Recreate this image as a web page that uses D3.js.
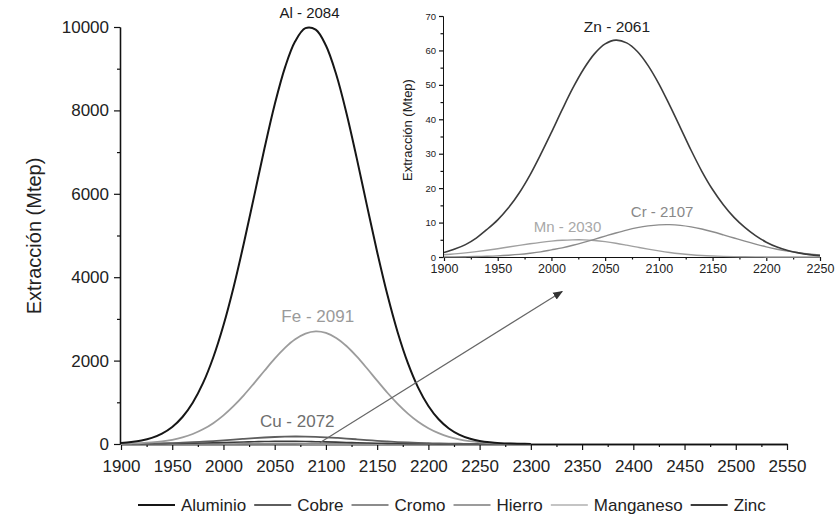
<!DOCTYPE html>
<html lang="es">
  <head>
    <meta charset="UTF-8" />
    <title>Extracción de metales</title>
    <script src="https://cdn.jsdelivr.net/npm/d3@7"></script>
    <style>
      body {
        margin: 0;
        background: #fff;
      }
      svg {
        font-family: "Liberation Sans", Arial, sans-serif;
      }
    </style>
  </head>
  <body>
    <svg width="837" height="516"></svg>
    <script>
      // values, every 10 years
      const years = [
        1900, 1910, 1920, 1930, 1940, 1950, 1960, 1970, 1980, 1990, 2000,
        2010, 2020, 2030, 2040, 2050, 2060, 2070, 2080, 2090, 2100, 2110,
        2120, 2130, 2140, 2150, 2160, 2170, 2180, 2190, 2200, 2210, 2220,
        2230, 2240, 2250, 2260, 2270, 2280, 2290, 2300,
      ];
      const aluminio = [
        24, 46, 83, 147, 250, 409, 648, 990, 1458, 2075, 2848, 3773, 4824,
        5951, 7085, 8140, 9026, 9657, 9972, 9936, 9555, 8866, 7940, 6862,
        5723, 4605, 3577, 2681, 1939, 1353, 912, 593, 372, 225, 131, 74, 40,
        21, 11, 5, 3,
      ];
      const hierro = [
        6, 12, 21, 37, 62, 101, 158, 240, 352, 500, 687, 913, 1173, 1460,
        1756, 2045, 2304, 2510, 2647, 2700, 2664, 2544, 2350, 2100, 1816,
        1519, 1229, 963, 730, 534, 379, 260, 172, 111, 69, 41, 24, 13, 7, 4,
        2,
      ];
      const cobre = [
        3, 5, 7, 11, 16, 23, 32, 42, 56, 71, 88, 106, 124, 141, 156, 168, 176,
        180, 178, 172, 161, 147, 131, 113, 95, 77, 61, 47, 36, 26, 18, 13, 9,
        6, 4, 2, 1, 1, 0, 0, 0,
      ];
      const zinc = [
        1.3, 2.3, 3.6, 5.5, 8.0, 10.8, 14.3, 18.6, 23.8, 29.8, 36.2, 42.8,
        49.1, 54.6, 59.0, 61.9, 63.0, 62.2, 59.7, 55.6, 50.3, 44.1, 37.6, 31.0,
        24.9, 19.6, 15.2, 11.5, 8.6, 6.2, 4.3, 2.9, 1.9, 1.2, 0.7, 0.4, 0.2,
        0.1, 0.1, 0, 0,
      ];
      const cromo = [
        0.03, 0.05, 0.09, 0.14, 0.22, 0.34, 0.52, 0.75, 1.08, 1.49, 2.07, 2.66,
        3.4, 4.24, 5.14, 6.07, 6.98, 7.82, 8.52, 9.04, 9.34, 9.39, 9.19, 8.75,
        8.12, 7.33, 6.44, 5.51, 4.59, 3.73, 2.94, 2.26, 1.69, 1.23, 0.87, 0.6,
        0.4, 0.26, 0.17, 0.1, 0.06,
      ];
      const manganeso = [
        0.66, 0.9, 1.19, 1.55, 1.95, 2.4, 2.89, 3.37, 3.84, 4.26, 4.61, 4.86,
        4.98, 4.98, 4.8, 4.45, 3.99, 3.44, 2.86, 2.29, 1.77, 1.31, 0.94, 0.65,
        0.43, 0.28, 0.17, 0.1, 0.06, 0.03, 0.02, 0.01, 0, 0, 0, 0, 0, 0, 0, 0,
        0,
      ];

      const seriesNames = ["Aluminio", "Cobre", "Cromo", "Hierro", "Manganeso", "Zinc"];
      const seriesValues = [aluminio, cobre, cromo, hierro, manganeso, zinc];
      const seriesColors = ["#161616", "#5e5e5e", "#8c8c8c", "#9c9c9c", "#c4c4c4", "#3c3c3c"];
      const seriesWidths = [2, 1.8, 1.5, 1.8, 1.5, 1.6];

      const mainXTicks = [1900, 1950, 2000, 2050, 2100, 2150, 2200, 2250, 2300, 2350, 2400, 2450, 2500, 2550];
      const mainYTicks = [0, 2000, 4000, 6000, 8000, 10000];
      const insetXTicks = [1900, 1950, 2000, 2050, 2100, 2150, 2200, 2250];
      const insetYTicks = [0, 10, 20, 30, 40, 50, 60, 70];

      // peak annotations: [text, year, value, color, font size]
      const mainLabels = [
        ["Al - 2084", 2084, 10000, "#1a1a1a", 15],
        ["Fe - 2091", 2092, 2700, "#9a9a9a", 17],
        ["Cu - 2072", 2072, 180, "#6e6e6e", 17],
      ];
      const insetLabels = [
        ["Zn - 2061", 2061, 63, "#222", 15.5],
        ["Mn - 2030", 2015, 5, "#a8a8a8", 15],
        ["Cr - 2107", 2103, 9.4, "#888", 15],
      ];

      const svg = d3.select("svg");
      const rows = years.map((y, i) => ({ year: y, v: seriesValues.map((s) => s[i]) }));

      // ---- main chart
      const x = d3.scaleLinear().domain([1900, 2550]).range([121, 787]);
      const y = d3.scaleLinear().domain([0, 10000]).range([444, 27]);

      const styleAxis = (g, w) => {
        g.select(".domain").attr("stroke", "#111").attr("stroke-width", w);
        g.selectAll(".tick line").attr("stroke", "#111").attr("stroke-width", 1.2);
        g.selectAll(".tick text").attr("fill", "#222");
      };

      svg.append("g")
        .attr("transform", "translate(0,444)")
        .call(d3.axisBottom(x).tickValues(d3.range(1925, 2550, 50)).tickSize(3).tickFormat("").tickSizeOuter(0))
        .call(styleAxis, 1.6);
      svg.append("g")
        .attr("transform", "translate(0,444)")
        .call(d3.axisBottom(x).tickValues(mainXTicks).tickSize(6).tickPadding(10).tickFormat(d3.format("d")).tickSizeOuter(0))
        .call(styleAxis, 1.6)
        .attr("font-size", 17).attr("font-family", null);

      svg.append("g")
        .attr("transform", "translate(120,0)")
        .call(d3.axisLeft(y).tickValues(d3.range(1000, 10000, 2000)).tickSize(3).tickFormat("").tickSizeOuter(0))
        .call(styleAxis, 1.3);
      svg.append("g")
        .attr("transform", "translate(120,0)")
        .call(d3.axisLeft(y).tickValues(mainYTicks).tickSize(6).tickPadding(5).tickFormat(d3.format("d")).tickSizeOuter(0))
        .call(styleAxis, 1.3)
        .attr("font-size", 17).attr("font-family", null);

      svg.append("text")
        .attr("transform", "translate(41,236) rotate(-90)")
        .attr("text-anchor", "middle")
        .attr("font-size", 20)
        .attr("fill", "#222")
        .text("Extracción (Mtep)");

      const mainOrder = [4, 2, 5, 1, 3, 0];
      mainOrder.forEach((k) => {
        const line = d3.line()
          .x((d) => x(d.year))
          .y((d) => y(d.v[k]))
          .curve(d3.curveCatmullRom.alpha(0.5));
        svg.append("path")
          .attr("d", line(rows))
          .attr("fill", "none")
          .attr("stroke", seriesColors[k])
          .attr("stroke-width", seriesWidths[k]);
      });

      mainLabels.forEach(([t, yr, val, col, fs]) => {
        svg.append("text")
          .attr("x", x(yr))
          .attr("y", y(val) - 9)
          .attr("text-anchor", "middle")
          .attr("font-size", fs)
          .attr("fill", col)
          .text(t);
      });

      // ---- inset
      const xi = d3.scaleLinear().domain([1900, 2250]).range([444, 820]);
      const yi = d3.scaleLinear().domain([0, 70]).range([257, 16]);
      const insetRows = rows.filter((d) => d.year <= 2250);

      svg.append("g")
        .attr("transform", "translate(0,257)")
        .call(d3.axisBottom(xi).tickValues(d3.range(1925, 2250, 50)).tickSize(2.5).tickFormat("").tickSizeOuter(0))
        .call(styleAxis, 1);
      svg.append("g")
        .attr("transform", "translate(0,257)")
        .call(d3.axisBottom(xi).tickValues(insetXTicks).tickSize(4).tickPadding(3).tickFormat(d3.format("d")).tickSizeOuter(0))
        .call(styleAxis, 1)
        .attr("font-size", 12.5).attr("font-family", null);
      svg.append("g")
        .attr("transform", "translate(443,0)")
        .call(d3.axisLeft(yi).tickValues(d3.range(5, 70, 10)).tickSize(2.5).tickFormat("").tickSizeOuter(0))
        .call(styleAxis, 1);
      svg.append("g")
        .attr("transform", "translate(443,0)")
        .call(d3.axisLeft(yi).tickValues(insetYTicks).tickSize(4).tickPadding(3).tickSizeOuter(0))
        .call(styleAxis, 1)
        .attr("font-size", 9.5).attr("font-family", null);

      svg.append("text")
        .attr("transform", "translate(412,130) rotate(-90)")
        .attr("text-anchor", "middle")
        .attr("font-size", 13)
        .attr("fill", "#222")
        .text("Extracción (Mtep)");

      [4, 2, 5].forEach((k) => {
        const line = d3.line()
          .x((d) => xi(d.year))
          .y((d) => yi(d.v[k]))
          .curve(d3.curveCatmullRom.alpha(0.5));
        svg.append("path")
          .attr("d", line(insetRows))
          .attr("fill", "none")
          .attr("stroke", k === 4 ? "#a0a0a0" : seriesColors[k])
          .attr("stroke-width", k === 5 ? 1.6 : 1.4);
      });

      insetLabels.forEach(([t, yr, val, col, fs]) => {
        svg.append("text")
          .attr("x", xi(yr))
          .attr("y", yi(val) - 8)
          .attr("text-anchor", "middle")
          .attr("font-size", fs)
          .attr("fill", col)
          .text(t);
      });

      // ---- arrow from the flat curves up to the inset
      svg.append("defs").append("marker")
        .attr("id", "head")
        .attr("viewBox", "0 0 10 10")
        .attr("refX", 9).attr("refY", 5)
        .attr("markerWidth", 9).attr("markerHeight", 9)
        .attr("orient", "auto")
        .append("path")
        .attr("d", "M0,1L10,5L0,9z")
        .attr("fill", "#333");
      svg.append("line")
        .attr("x1", x(2094)).attr("y1", y(30))
        .attr("x2", xi(2010)).attr("y2", yi(-10))
        .attr("stroke", "#666")
        .attr("stroke-width", 1.1)
        .attr("marker-end", "url(#head)");

      // ---- legend
      let lx = 138;
      const ly = 505;
      const legend = svg.append("g").attr("font-size", 17);
      seriesNames.forEach((name, k) => {
        legend.append("line")
          .attr("x1", lx).attr("x2", lx + 37)
          .attr("y1", ly).attr("y2", ly)
          .attr("stroke", seriesColors[k])
          .attr("stroke-width", 2);
        const t = legend.append("text")
          .attr("x", lx + 43)
          .attr("y", ly)
          .attr("dy", "0.35em")
          .attr("fill", "#222")
          .text(name);
        lx += 43 + t.node().getComputedTextLength() + 8;
      });
    </script>
  </body>
</html>
